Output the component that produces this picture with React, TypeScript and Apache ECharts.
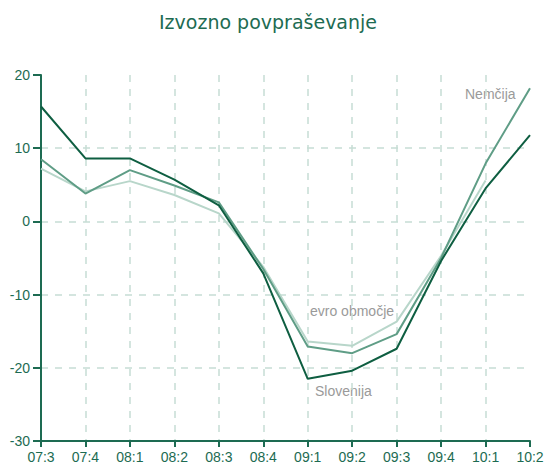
import React, { useEffect, useRef } from "react";
import * as echarts from "echarts";

const categories = ["07:3", "07:4", "08:1", "08:2", "08:3", "08:4", "09:1", "09:2", "09:3", "09:4", "10:1", "10:2"];
const slovenija = [15.7, 8.6, 8.6, 5.7, 2.2, -7.1, -21.5, -20.4, -17.4, -5.4, 4.5, 11.8];
const nemcija = [8.5, 3.8, 7.0, 4.9, 2.6, -6.5, -17.1, -18.0, -15.4, -5.0, 7.9, 18.2];
const evro = [7.2, 4.1, 5.5, 3.6, 1.1, -6.2, -16.4, -17.0, -13.7, -4.7, 5.6, null];
const yTicks = { min: -30, max: 20, interval: 10 };

const AXIS = "#1d6b52";
const GRID = "#c6ddd5";
const LABEL_GREY = "#9a9a9a";

export default function App() {
  const ref = useRef<HTMLDivElement>(null);
  useEffect(() => {
    if (!ref.current) return;
    const chart = echarts.init(ref.current, null, { renderer: "svg" });
    const font = "'Liberation Sans', Arial, sans-serif";
    chart.setOption({
      animation: false,
      backgroundColor: "#ffffff",
      title: {
        text: "Izvozno povpraševanje",
        left: 263,
        top: 7,
        textAlign: "center",
        textStyle: { color: AXIS, fontSize: 19, fontWeight: "normal", fontFamily: "'DejaVu Sans', sans-serif" },
      },
      grid: { left: 41, right: 19, top: 75, bottom: 30, containLabel: false },
      xAxis: {
        type: "category",
        data: categories,
        boundaryGap: false,
        axisLine: { show: true, onZero: false, lineStyle: { color: AXIS, width: 2 } },
        axisTick: { show: true, length: 6, alignWithLabel: true, lineStyle: { color: AXIS, width: 2 } },
        axisLabel: { color: AXIS, fontSize: 14, fontFamily: font, margin: 9, interval: 0 },
        splitLine: {
          show: true,
          interval: (i: number) => i > 0 && i < categories.length - 1,
          lineStyle: { color: GRID, type: [7, 7], width: 1.5 },
        },
      },
      yAxis: {
        type: "value",
        min: yTicks.min,
        max: yTicks.max,
        interval: yTicks.interval,
        axisLine: { show: true, lineStyle: { color: AXIS, width: 2 } },
        axisTick: { show: true, length: 8, lineStyle: { color: AXIS, width: 2 } },
        axisLabel: { color: AXIS, fontSize: 14, fontFamily: font, margin: 11 },
        splitLine: {
          show: true,
          showMinLine: false,
          showMaxLine: false,
          lineStyle: { color: GRID, type: [7, 7], width: 1.5 },
        },
      },
      series: [
        {
          name: "evro območje",
          type: "line",
          data: evro,
          symbol: "none",
          lineStyle: { color: "#b8d6ca", width: 2 },
          z: 2,
        },
        {
          name: "Nemčija",
          type: "line",
          data: nemcija,
          symbol: "none",
          lineStyle: { color: "#5f9d86", width: 2 },
          z: 3,
        },
        {
          name: "Slovenija",
          type: "line",
          data: slovenija,
          symbol: "none",
          lineStyle: { color: "#0e5e41", width: 2 },
          z: 4,
        },
      ],
      graphic: [
        { type: "text", left: 465, top: 87, style: { text: "Nemčija", fill: LABEL_GREY, font: `14px ${font}` } },
        { type: "text", left: 310, top: 304, style: { text: "evro območje", fill: LABEL_GREY, font: `14px ${font}` } },
        { type: "text", left: 315, top: 384, style: { text: "Slovenija", fill: LABEL_GREY, font: `14px ${font}` } },
      ],
    });
    return () => chart.dispose();
  }, []);
  return <div ref={ref} style={{ position: "fixed", left: 0, top: 0, width: 549, height: 471 }} />;
}
